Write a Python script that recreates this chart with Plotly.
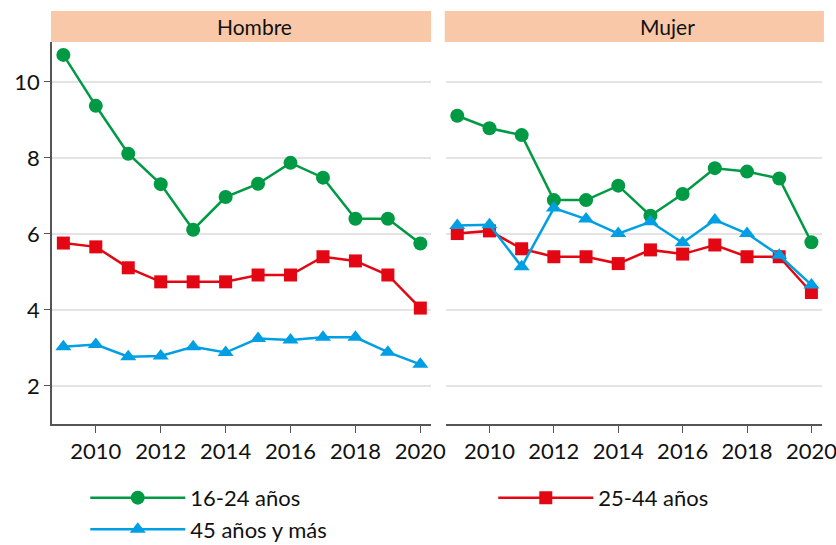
import plotly.graph_objects as go

years = list(range(2009, 2021))

# Hombre
hombre_16_24 = [10.71, 9.37, 8.11, 7.31, 6.11, 6.97, 7.32, 7.87, 7.48, 6.40, 6.40, 5.75]
hombre_25_44 = [5.76, 5.66, 5.11, 4.74, 4.74, 4.74, 4.92, 4.92, 5.40, 5.29, 4.92, 4.05]
hombre_45 = [3.03, 3.09, 2.77, 2.79, 3.03, 2.88, 3.25, 3.21, 3.28, 3.28, 2.89, 2.57]

# Mujer
mujer_16_24 = [9.11, 8.78, 8.60, 6.89, 6.89, 7.27, 6.48, 7.05, 7.73, 7.64, 7.46, 5.78]
mujer_25_44 = [6.01, 6.08, 5.61, 5.40, 5.40, 5.22, 5.58, 5.47, 5.71, 5.40, 5.40, 4.46]
mujer_45 = [6.22, 6.24, 5.14, 6.68, 6.39, 6.01, 6.32, 5.77, 6.37, 6.01, 5.44, 4.66]

panels = ["Hombre", "Mujer"]
series_names = ["16-24 años", "25-44 años", "45 años y más"]
colours = ["#009a44", "#e30613", "#009fe3"]
symbols = ["circle", "square", "triangle-up"]

FONT = "Lato"

fig = go.Figure()

panel_data = [
    [hombre_16_24, hombre_25_44, hombre_45],
    [mujer_16_24, mujer_25_44, mujer_45],
]

for p, data in enumerate(panel_data):
    xa = "x" if p == 0 else "x2"
    ya = "y" if p == 0 else "y2"
    for s, values in enumerate(data):
        fig.add_trace(go.Scatter(
            x=years, y=values, mode="lines+markers", name=series_names[s],
            line=dict(color=colours[s], width=2.5),
            marker=dict(symbol=symbols[s], size=14 if s != 1 else 13,
                        color=colours[s]),
            xaxis=xa, yaxis=ya, showlegend=(p == 0),
        ))

xaxis_common = dict(
    range=[2008.65, 2020.33], tickvals=[2010, 2012, 2014, 2016, 2018, 2020],
    showgrid=False, zeroline=False, showline=True, linecolor="#555555",
    linewidth=1.5, ticks="outside", ticklen=7, tickcolor="#555555",
    tickfont=dict(family=FONT, size=22, color="#111111"), automargin=False,
    ticklabeloverflow="allow",
)
yaxis_common = dict(
    range=[1.0, 11.05], tickvals=[2, 4, 6, 8, 10],
    showgrid=True, gridcolor="#e3e3e3", gridwidth=1.5, zeroline=False,
    tickfont=dict(family=FONT, size=22, color="#111111"), automargin=False,
    domain=[0.222, 0.923],
)

fig.update_layout(
    width=836, height=545,
    margin=dict(l=0, r=0, t=0, b=0, autoexpand=False),
    plot_bgcolor="white", paper_bgcolor="white",
    xaxis=dict(domain=[0.0622, 0.5156], **xaxis_common),
    xaxis2=dict(domain=[0.5335, 0.9833], anchor="y2", **xaxis_common),
    yaxis=dict(showline=True, linecolor="#555555", linewidth=1.5,
               ticks="outside", ticklen=6, tickcolor="#555555", **yaxis_common),
    yaxis2=dict(anchor="x2", matches="y", showticklabels=False, showline=False,
                **yaxis_common),
    legend=dict(orientation="h", x=0.102, y=0.125, xanchor="left", yanchor="top",
                itemwidth=95, entrywidth=298, entrywidthmode="pixels",
                font=dict(family=FONT, size=22, color="#111111"),
                bgcolor="rgba(0,0,0,0)"),
)

# facet strips
strip_x = [(0.061, 0.5156), (0.532, 0.9856)]
label_x = [0.304, 0.798]
for p, name in enumerate(panels):
    fig.add_shape(type="rect", xref="paper", yref="paper",
                  x0=strip_x[p][0], x1=strip_x[p][1], y0=0.923, y1=0.980,
                  fillcolor="#f9c8a8", line=dict(width=0), layer="below")
    fig.add_annotation(text=name, xref="paper", yref="paper",
                       x=label_x[p], y=0.951, xanchor="center", yanchor="middle",
                       showarrow=False,
                       font=dict(family=FONT, size=21, color="#111111"))

fig.write_html(
    "out.html",
    config={"displayModeBar": False},
    post_script="document.body.style.margin='0';document.body.style.overflow='hidden';",
)
